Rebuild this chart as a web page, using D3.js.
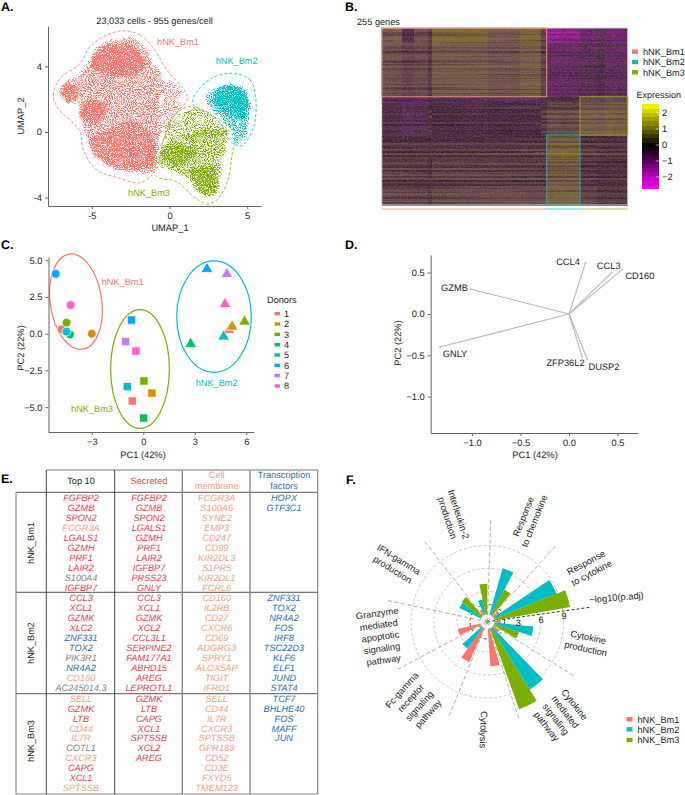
<!DOCTYPE html>
<html>
<head>
<meta charset="utf-8">
<script src="https://cdn.jsdelivr.net/npm/d3@7"></script>
<style>
  body { margin: 0; background: #fff; }
  svg { display: block; font-family: "Liberation Sans", Arial, sans-serif; text-rendering: geometricPrecision; }
  text { fill: #222; }
</style>
</head>
<body>
<div id="fig"></div>
<script>
const clusters = ["hNK_Bm1", "hNK_Bm2", "hNK_Bm3"];
const clusterColors = ["#F8766D", "#00BFC4", "#7CAE00"];

// A. UMAP clouds, outlines (UMAP units)
const bm1Outline = [[-2.96,6.17],[-1.89,5.91],[-1.03,5.10],[-0.17,3.78],[1.01,2.46],[1.12,1.95],[0.26,0.93],[-0.39,-0.49],[-0.86,-2.31],[-1.89,-3.09],[-3.18,-2.82],[-4.68,-2.31],[-5.54,-1.10],[-5.75,0.02],[-6.29,0.63],[-7.25,1.54],[-7.47,2.36],[-7.04,3.27],[-5.75,4.18],[-5.11,5.20],[-4.03,5.91]];
const bm2Outline = [[4.12,3.57],[5.19,3.17],[5.56,1.95],[5.41,0.32],[4.66,-0.83],[4.01,-0.65],[3.26,0.53],[2.40,1.24],[1.50,1.71],[1.76,2.46],[2.83,3.33]];
const bm3Outline = [[1.22,1.54],[2.62,1.04],[4.12,0.02],[4.01,-1.50],[3.69,-3.13],[3.05,-4.14],[2.40,-4.39],[1.55,-3.94],[0.47,-3.03],[-0.82,-2.72],[-1.14,-1.91],[-0.39,-0.49],[0.26,0.93]];

const bm1Body = [[-2.64,5.85],[-1.78,5.50],[-1.24,4.59],[-0.60,3.68],[-0.17,2.76],[-0.60,1.95],[-0.39,0.53],[-0.71,-1.10],[-0.92,-2.42],[-1.89,-2.52],[-3.39,-2.31],[-4.68,-1.71],[-5.28,-0.69],[-5.64,0.53],[-5.86,1.04],[-5.64,1.75],[-6.29,1.64],[-6.93,1.95],[-7.08,2.46],[-6.72,3.07],[-5.75,3.57],[-5.11,4.59],[-4.46,5.40],[-3.50,5.71]];
const bm1Top = [[-4.46,5.0],[-2.75,5.40],[-1.67,4.59],[-1.46,4.08],[-2.32,3.47],[-3.82,3.47],[-4.99,3.88],[-4.99,4.49]];
const bm1Lobe = [[-6.93,2.76],[-6.29,2.96],[-5.86,2.36],[-6.39,1.75],[-6.93,1.95]];
const bm1Mid = [[-5.54,1.75],[-4.46,1.95],[-4.03,1.14],[-4.68,0.53],[-5.75,0.83],[-5.86,1.24]];
const bm1Low = [[-2.53,0.73],[-1.46,0.22],[-0.82,-0.69],[-1.03,-2.11],[-2.96,-2.31],[-4.68,-1.50],[-5.28,-0.49],[-4.46,-0.08]];
const bm1Stray = [[-0.17,3.17],[0.90,2.36],[0.47,1.14],[-0.28,-0.08],[-0.60,0.73]];
const bm2Body = [[3.91,2.96],[4.87,2.66],[5.19,1.75],[5.09,0.53],[4.87,-0.49],[4.23,-0.79],[4.01,0.12],[3.37,0.63],[2.83,1.34],[2.19,1.95],[2.83,2.66]];
const bm2Core = [[3.91,2.86],[4.76,2.56],[5.09,1.54],[4.66,0.73],[3.69,1.04],[2.94,1.75],[3.05,2.56]];
const bm3Body = [[-0.39,-0.69],[1.12,-0.08],[2.83,0.22],[3.91,0.02],[3.69,-0.69],[3.37,-2.11],[3.26,-3.33],[2.62,-3.94],[1.97,-3.84],[0.90,-2.72],[-0.39,-2.21],[-0.92,-1.91]];
const bm3Sparse = [[-0.39,-0.49],[0.79,1.34],[1.97,1.44],[3.69,0.22],[3.91,-0.08],[1.12,-0.49]];
const bm3Core1 = [[-0.60,-1.30],[0.47,-0.69],[1.76,-1.10],[1.12,-1.91],[-0.17,-1.91]];
const bm3Core2 = [[1.33,-2.31],[2.83,-2.11],[3.26,-3.13],[2.62,-3.94],[2.08,-3.74]];

// B. heatmap: cells per column group, gene sections, level per section, stripe per 3 genes
const groupCells = [1058,870,1123,1310,374,2750,2490,2967,1965,533,1404,1713,1563,777,777,1348];
const sectionGenes = [19,80,55,36,65];
const sectionLevels = [
  [0.7,0.85,-0.4,0.55,0.3,1.1,1.05,0.75,1.05,0.35,-1.6,-1.5,-1.0,-0.6,-0.95,-1.1],
  [0.6,0.55,0.4,0.5,0.25,0.75,0.75,0.62,0.85,0.35,-0.8,-0.8,-0.55,-0.4,-0.7,-0.75],
  [-0.3,-0.35,-0.55,-0.4,0.15,-0.2,-0.25,-0.15,-0.2,0.25,0.55,0.5,0.85,0.8,0.95,0.85],
  [0.25,0.25,0.2,0.25,0.1,0.25,0.25,0.25,0.3,0.3,1.05,1.1,0.35,0.25,0.2,0.2],
  [0.5,0.48,0.48,0.42,0.25,0.5,0.5,0.5,0.48,0.45,0.95,0.95,0.35,0.2,0.2,0.2]
];
const rowStripes = [0.15,0.05,-0.15,0.05,-0.05,0.2,-0.05,0.15,0,-0.2,0.2,-0.35,0,0.15,0.05,0,-0.2,0.05,0.2,-0.15,0,0.1,-0.05,0.05,0.15,-0.05,0.05,0.1,0.05,-0.05,0.05,0.05,-0.1,
  -0.5,-0.45,-0.15,0.05,-0.15,-0.35,0.05,0.15,-0.2,0.2,-0.05,0.05,-0.3,0.15,0,-0.15,0.15,0.05,-0.05,
  -0.35,-0.05,-0.4,0.15,-0.55,-0.15,0.2,-0.2,0.35,-0.35,0.05,-0.05,
  -0.2,0,-0.35,0.05,-0.4,-0.05,0.05,-0.3,0.15,-0.5,-0.15,-0.35,0,0.05,-0.05,0.15,0.05,-0.15,0.05,0.1,0];
const exprTicks = [2, 1, 0, -1, -2];

// C. donors on PC1/PC2, one array per cluster, in donor order 1..8
const donors = ["1","2","3","4","5","6","7","8"];
const donorColors = ["#F8766D","#CD9600","#7CAE00","#00BE67","#00BFC4","#00A9FF","#C77CFF","#FF61CC"];
const bm1Pc1 = [-4.76,-3.0,-4.47,-4.27,-4.47,-5.1,-5.07,-4.23];
const bm1Pc2 = [0.29,0.0,0.75,-0.05,0.14,4.08,4.04,1.95];
const bm2Pc1 = [4.99,5.17,5.9,2.76,4.68,3.71,4.87,4.76];
const bm2Pc2 = [0.25,0.48,0.82,-0.7,-0.2,4.4,4.06,2.02];
const bm3Pc1 = [-0.64,0.5,0.04,0.02,-0.93,-0.68,-1.03,-0.43];
const bm3Pc2 = [-4.58,-4.04,-3.22,-5.74,-3.6,0.93,-0.54,-1.18];
// centre x, centre y, radius x, radius y, tilt
const ellipses = [[-3.92,2.18,1.5,3.27,-8],[4.12,1.16,2.17,3.79,0],[-0.19,-2.4,1.71,4.04,0]];

// D. loadings
const genes = ["CCL4","CCL3","CD160","GZMB","GNLY","ZFP36L2","DUSP2"];
const loadX = [0.17,0.44,0.55,-1.01,-1.33,0.134,0.19];
const loadY = [0.62,0.50,0.54,0.30,-0.40,-0.516,-0.55];

// E. marker table
const tableCols = ["Top 10","Secreted","Cell\nmembrane","Transcription\nfactors"];
const top10 = [
  ["FGFBP2","GZMB","SPON2","FCGR3A","LGALS1","GZMH","PRF1","LAIR2","S100A4","IGFBP7"],
  ["CCL3","XCL1","GZMK","XLC2","ZNF331","TOX2","PIK3R1","NR4A2","CD160","AC245014.3"],
  ["SELL","GZMK","LTB","CD44","IL7R","COTL1","CXCR3","CAPG","XCL1","SPTSSB"]];
const top10Kind = [
  ["s","s","s","m","s","s","s","s","o","s"],
  ["s","s","s","s","t","t","o","t","m","o"],
  ["m","s","s","m","m","o","m","s","s","m"]];
const secreted = [
  ["FGFBP2","GZMB","SPON2","LGALS1","GZMH","PRF1","LAIR2","IGFBP7","PRSS23","GNLY"],
  ["CCL3","XCL1","GZMK","XCL2","CCL3L1","SERPINE2","FAM177A1","ABHD15","AREG","LEPROTL1"],
  ["GZMK","LTB","CAPG","XCL1","SPTSSB","XCL2","AREG"]];
const membrane = [
  ["FCGR3A","S100A6","SYNE2","EMP3","CD247","CD99","KIR2DL3","S1PR5","KIR2DL1","FCRL6"],
  ["CD160","IL2RB","CD27","CXCR6","CD69","ADGRG3","SPRY1","ALOX5AP","TIGIT","IFRD1"],
  ["SELL","CD44","IL7R","CXCR3","SPTSSB","GPR183","CD52","CD3E","FXYD5","TMEM123"]];
const factors = [
  ["HOPX","GTF3C1"],
  ["ZNF331","TOX2","NR4A2","FOS","IRF8","TSC22D3","KLF6","ELF1","JUND","STAT4"],
  ["TCF7","BHLHE40","FOS","MAFF","JUN"]];
const kindColors = {s: "#e2444c", m: "#f0a283", t: "#2f6db3", o: "#858585"};

// F. -log10(p.adj) per pathway
const pathways = [
  ["Response","to chemokine"],["Response","to cytokine"],["Cytokine","production"],
  ["Cytokine","mediated","signaling","pathway"],["Cytolysis"],
  ["Fc-gamma","receptor","signaling","pathway"],
  ["Granzyme","mediated","apoptotic","signaling","pathway"],
  ["IFN-gamma","production"],["Interleukin-2","production"]];
const logpBm1 = [0,1.0,0.8,1.0,4.9,4.8,3.0,0,0.8];
const logpBm2 = [6.3,8.8,5.1,9.5,0,3.4,0,3.1,2.0];
const logpBm3 = [3.8,10,3.4,11.2,0,0.3,0,3.3,4.0];
const labelRadius = [111,115,102,119,108,108,108,108,111];
const ringValues = [3,6,9];

const svg = d3.select("#fig").append("svg").attr("width", 685).attr("height", 795);
const defs = svg.append("defs");

function noiseFilter(id) {
  return defs.append("filter").attr("id", id)
    .attr("filterUnits", "userSpaceOnUse").attr("x", 0).attr("y", 0).attr("width", 685).attr("height", 795)
    .attr("color-interpolation-filters", "sRGB");
}
// texture that breaks the filled shapes into specks like a dense scatter, thinning out at the edge
function speckle(id, seed, intercept) {
  const f = noiseFilter(id);
  f.append("feTurbulence").attr("type", "fractalNoise").attr("baseFrequency", 0.12).attr("numOctaves", 2).attr("seed", seed + 7).attr("result", "wob");
  f.append("feDisplacementMap").attr("in", "SourceGraphic").attr("in2", "wob").attr("scale", 5).attr("xChannelSelector", "R").attr("yChannelSelector", "G").attr("result", "shape");
  f.append("feGaussianBlur").attr("in", "shape").attr("stdDeviation", 2.5).attr("result", "soft");
  f.append("feTurbulence").attr("type", "fractalNoise").attr("baseFrequency", 0.95).attr("numOctaves", 1).attr("seed", seed).attr("result", "n");
  f.append("feColorMatrix").attr("in", "n").attr("type", "matrix").attr("values", "0 0 0 0 0  0 0 0 0 0  0 0 0 0 0  1 0 0 0 0").attr("result", "a");
  f.append("feComposite").attr("in", "soft").attr("in2", "a").attr("operator", "in").attr("result", "mix");
  f.append("feComponentTransfer").attr("in", "mix")
    .append("feFuncA").attr("type", "linear").attr("slope", 7).attr("intercept", intercept);
}
speckle("sparse", 2, -3.45);
speckle("mid", 5, -3.1);
speckle("semi", 11, -2.9);
speckle("dense", 9, -2.6);

// grain over the heatmap
function grain(id, freq, seed, intercept) {
  const f = noiseFilter(id);
  f.append("feTurbulence").attr("type", "fractalNoise").attr("baseFrequency", freq).attr("numOctaves", 1).attr("seed", seed).attr("result", "n");
  f.append("feColorMatrix").attr("in", "n").attr("type", "matrix").attr("values", "0 0 0 0 0  0 0 0 0 0  0 0 0 0 0  1 0 0 0 0").attr("result", "a");
  f.append("feComponentTransfer").attr("in", "a").attr("result", "mask")
    .append("feFuncA").attr("type", "linear").attr("slope", 6).attr("intercept", intercept);
  f.append("feComposite").attr("in", "SourceGraphic").attr("in2", "mask").attr("operator", "in");
}
grain("streaks", "0.006 0.75", 4, -3);
grain("grainA", "0.55 0.8", 8, -3);
grain("grainB", "0.55 0.8", 13, -3);

function panelLabel(t, x, y) {
  svg.append("text").attr("x", x).attr("y", y).attr("font-size", 12.5).attr("font-weight", "bold").style("fill", "#000").text(t);
}
function axisStyle(g) {
  g.selectAll("path,line").attr("stroke", "#666").attr("stroke-width", 1);
  g.selectAll("text").attr("font-size", 9.3).style("fill", "#222");
}
function axisTitle(t, x, y, rot) {
  svg.append("text").attr("transform", "translate(" + x + "," + y + ")" + (rot ? " rotate(-90)" : ""))
    .attr("text-anchor", "middle").attr("font-size", 9.3).text(t);
}
const hyphen = f => v => f(v).replace("\u2212", "-");

// ---- A
panelLabel("A.", 1, 11);
const ax = d3.scaleLinear().domain([-7.82, 5.89]).range([48, 261]);
const ay = d3.scaleLinear().domain([-4.51, 6.46]).range([206, 26]);
const blob = d3.line().x(d => ax(d[0])).y(d => ay(d[1])).curve(d3.curveCatmullRomClosed.alpha(0.5));

const clouds = [
  [0, "sparse", bm1Stray], [2, "sparse", bm3Sparse],
  [0, "mid", bm1Body], [0, "dense", bm1Top], [0, "dense", bm1Lobe], [0, "dense", bm1Mid], [0, "semi", bm1Low],
  [2, "mid", bm3Body], [2, "semi", bm3Core1], [2, "semi", bm3Core2],
  [1, "mid", bm2Body], [1, "dense", bm2Core]
];
svg.append("g").selectAll("path").data(clouds).join("path")
  .attr("d", d => blob(d[2]))
  .attr("fill", d => clusterColors[d[0]])
  .attr("stroke", d => clusterColors[d[0]]).attr("stroke-width", 4)
  .attr("filter", d => "url(#" + d[1] + ")");

const outlines = [bm1Outline, bm2Outline, bm3Outline];
svg.append("g").selectAll("path").data(outlines).join("path")
  .attr("d", blob).attr("fill", "none")
  .attr("stroke", (d, i) => clusterColors[i]).attr("stroke-width", 0.8).attr("stroke-dasharray", "3 2");

svg.append("g").attr("transform", "translate(0,206)")
  .call(d3.axisBottom(ax).tickValues([-5, 0, 5]).tickSize(3).tickSizeOuter(0).tickFormat(hyphen(d3.format("d")))).call(axisStyle);
svg.append("g").attr("transform", "translate(48,0)")
  .call(d3.axisLeft(ay).tickValues([-4, 0, 4]).tickSize(3).tickSizeOuter(0).tickFormat(hyphen(d3.format("d")))).call(axisStyle);
axisTitle("UMAP_1", 170, 231);
axisTitle("UMAP_2", 24, 116, true);
svg.append("text").attr("x", 154.5).attr("y", 23.5).attr("text-anchor", "middle").attr("font-size", 9.2).text("23,033 cells - 955 genes/cell");
[[178, 45], [236.7, 64], [149, 196]].forEach((p, i) => {
  svg.append("text").attr("x", p[0]).attr("y", p[1]).attr("text-anchor", "middle").attr("font-size", 9.2)
    .style("fill", clusterColors[i]).text(clusters[i]);
});

// ---- B
panelLabel("B.", 345, 11);
svg.append("text").attr("x", 357).attr("y", 25).attr("font-size", 9.2).text("255 genes");
const cellEdges = Array.from(d3.cumsum(groupCells)); cellEdges.unshift(0);
const hx = d3.scaleLinear().domain([0, d3.sum(groupCells)]).range([381.7, 627.7]);
const hy = d3.scaleLinear().domain([0, 255]).range([28, 205]);
// cells are far narrower than a pixel, so what shows is the yellow/magenta mix
const heatColor = d3.scaleLinear()
  .domain([-2.2,-1.2,-0.5,0,0.45,0.85,1.3,2.2])
  .range(["#c81cc8","#781e78","#57305a","#3b2433","#66464f","#76604a","#7a7420","#b8b810"]);
const sectionStart = Array.from(d3.cumsum(sectionGenes)); sectionStart.unshift(0);
function sectionOf(gene) { return d3.bisectRight(sectionStart, gene) - 1; }

const heat = svg.append("g").attr("shape-rendering", "crispEdges");
rowStripes.forEach((shift, r) => {
  const gene = r * 3;
  const levels = sectionLevels[Math.min(sectionOf(gene), 4)];
  heat.selectAll(null).data(groupCells).join("rect")
    .attr("x", (d, c) => hx(cellEdges[c]))
    .attr("width", (d, c) => hx(cellEdges[c + 1]) - hx(cellEdges[c]))
    .attr("y", hy(gene))
    .attr("height", hy(Math.min(gene + 3, 255)) - hy(gene) + 0.5)
    .attr("fill", (d, c) => heatColor(levels[c] + shift));
});
[["streaks", "#1a0a18", 0.28], ["grainA", "#a04aa0", 0.22], ["grainB", "#9a9a20", 0.22]].forEach(o => {
  svg.append("rect").attr("x", 381.7).attr("y", 28).attr("width", 246).attr("height", 177)
    .attr("fill", o[1]).attr("opacity", o[2]).attr("filter", "url(#" + o[0] + ")");
});
// annotation boxes: [first group, last group + 1, first section, last section + 1]
const boxes = [[0, 10, 0, 2, "#e98a80"], [10, 12, 3, 5, "#2aa9ad"], [12, 16, 2, 3, "#8fa626"]];
const bBox = svg.append("g").attr("fill", "none").attr("stroke-width", 1);
bBox.append("rect").attr("x", hx.range()[0]).attr("y", hy(0)).attr("width", 246).attr("height", 177).attr("stroke", "#d8d0d8");
bBox.selectAll(null).data(boxes).join("rect")
  .attr("x", d => hx(cellEdges[d[0]])).attr("width", d => hx(cellEdges[d[1]]) - hx(cellEdges[d[0]]))
  .attr("y", d => hy(sectionStart[d[2]])).attr("height", d => hy(sectionStart[d[3]]) - hy(sectionStart[d[2]]))
  .attr("stroke", d => d[4]);
// strip under the heatmap
[[0, 10], [10, 12], [12, 16]].forEach((s, i) => {
  svg.append("rect").attr("x", hx(cellEdges[s[0]])).attr("y", 208)
    .attr("width", hx(cellEdges[s[1]]) - hx(cellEdges[s[0]])).attr("height", 2)
    .attr("fill", clusterColors[i]).attr("opacity", 0.35);
});
function clusterKeys(keyX, ys, labelGap) {
  clusters.forEach((c, i) => {
    svg.append("rect").attr("x", keyX).attr("y", ys[i] - 2.2).attr("width", 6).attr("height", 4.4).attr("fill", clusterColors[i]);
    svg.append("text").attr("x", keyX + labelGap).attr("y", ys[i] + 3.3).attr("font-size", 9.2).text(c);
  });
}
clusterKeys(632, [51.7, 62, 72.3], 11);
svg.append("text").attr("x", 636.5).attr("y", 98).attr("font-size", 9).text("Expression");
const exprY = d3.scaleLinear().domain([-2.73, 2.56]).range([188.7, 104]);
const exprColor = d3.scaleLinear().domain([-2.73, 0, 2.56]).range(["#ff00ff", "#000000", "#ffff00"]);
const exprBins = d3.range(20).map(i => -2.73 + i * 5.29 / 20);
svg.append("g").attr("shape-rendering", "crispEdges").selectAll("rect").data(exprBins).join("rect")
  .attr("x", 642.3).attr("width", 16.7)
  .attr("y", d => exprY(d + 5.29 / 20)).attr("height", d => exprY(d) - exprY(d + 5.29 / 20) + 0.5)
  .attr("fill", d => exprColor(d + 5.29 / 40));
svg.append("g").selectAll("line").data(exprTicks).join("line")
  .attr("x1", 655.7).attr("x2", 659).attr("y1", d => exprY(d)).attr("y2", d => exprY(d)).attr("stroke", "#fff").attr("stroke-width", 0.6);
svg.append("g").attr("transform", "translate(659,0)")
  .call(d3.axisRight(exprY).tickValues(exprTicks).tickSize(0).tickPadding(3).tickFormat(d3.format("d")))
  .call(g => g.select("path").remove())
  .call(g => g.selectAll("text").attr("font-size", 9.3).style("fill", "#222"));

// ---- C
panelLabel("C.", 1, 249);
const cx = d3.scaleLinear().domain([-5.52, 6.43]).range([48.5, 253.7]);
const cy = d3.scaleLinear().domain([-6.69, 5.22]).range([432, 257]);
svg.append("g").selectAll("ellipse").data(ellipses).join("ellipse")
  .attr("cx", 0).attr("cy", 0)
  .attr("rx", d => cx(d[2]) - cx(0)).attr("ry", d => cy(0) - cy(d[3]))
  .attr("transform", d => "translate(" + cx(d[0]) + "," + cy(d[1]) + ") rotate(" + d[4] + ")")
  .attr("fill", "none").attr("stroke", (d, i) => clusterColors[i]).attr("stroke-width", 1.2);
const donorMarks = [[d3.symbolCircle, bm1Pc1, bm1Pc2, 62], [d3.symbolTriangle, bm2Pc1, bm2Pc2, 62], [d3.symbolSquare, bm3Pc1, bm3Pc2, 70]];
// drawn so that the blue marker sits over the purple one, as in the picture
const donorOrder = [0, 1, 2, 3, 4, 6, 5, 7];
donorMarks.forEach(m => {
  svg.append("g").selectAll("path").data(donorOrder).join("path")
    .attr("d", d3.symbol().type(m[0]).size(m[3]))
    .attr("transform", d => "translate(" + cx(m[1][d]) + "," + cy(m[2][d]) + ")")
    .attr("fill", d => donorColors[d]).attr("stroke", "#fff").attr("stroke-width", 0.8);
});
svg.append("g").attr("transform", "translate(0,432)")
  .call(d3.axisBottom(cx).tickValues([-3, 0, 3, 6]).tickSize(3).tickSizeOuter(0)).call(axisStyle);
svg.append("g").attr("transform", "translate(48.5,0)")
  .call(d3.axisLeft(cy).tickValues([-5, -2.5, 0, 2.5, 5]).tickSize(3).tickSizeOuter(0).tickFormat(d3.format(".1f"))).call(axisStyle);
axisTitle("PC1 (42%)", 143, 458);
axisTitle("PC2 (22%)", 24, 348, true);
[[122.7, 284.8], [216.7, 386], [92, 411.8]].forEach((p, i) => {
  svg.append("text").attr("x", p[0]).attr("y", p[1]).attr("text-anchor", "middle").attr("font-size", 9.2)
    .style("fill", clusterColors[i]).text(clusters[i]);
});
svg.append("text").attr("x", 267).attr("y", 303).attr("font-size", 9.2).text("Donors");
const donorY = d3.scalePoint().domain(donors).range([313.7, 386]);
donors.forEach((d, i) => {
  svg.append("rect").attr("x", 274.5).attr("y", donorY(d) - 1.7).attr("width", 5.5).attr("height", 3.4).attr("fill", donorColors[i]);
  svg.append("text").attr("x", 284).attr("y", donorY(d) + 3.3).attr("font-size", 9.2).text(d);
});

// ---- D
panelLabel("D.", 345, 249);
const dx = d3.scaleLinear().domain([-1.426, 0.711]).range([430.7, 638]);
const dy = d3.scaleLinear().domain([-1.439, 0.713]).range([433, 255]);
// label centre, pixels relative to the arrow tip
const geneLabelShift = [[-17.5, -1], [-3, -7], [17.5, 6], [-16.5, -1], [15, 7], [-16.5, 6.5], [16.5, 7.5]];
svg.append("g").selectAll("line").data(genes).join("line")
  .attr("x1", dx(0)).attr("y1", dy(0))
  .attr("x2", (d, i) => dx(loadX[i])).attr("y2", (d, i) => dy(loadY[i]))
  .attr("stroke", "#b9b9b9").attr("stroke-width", 1.1);
svg.append("g").selectAll("circle").data(genes).join("circle")
  .attr("cx", (d, i) => dx(loadX[i])).attr("cy", (d, i) => dy(loadY[i])).attr("r", 0.9).attr("fill", "#b9b9b9");
svg.append("g").selectAll("text").data(genes).join("text")
  .attr("x", (d, i) => dx(loadX[i]) + geneLabelShift[i][0])
  .attr("y", (d, i) => dy(loadY[i]) + geneLabelShift[i][1] + 3.2)
  .attr("text-anchor", "middle").attr("font-size", 9.3).text(d => d);
svg.append("g").attr("transform", "translate(0,433)")
  .call(d3.axisBottom(dx).tickValues([-1, -0.5, 0, 0.5]).tickSize(3).tickSizeOuter(0).tickFormat(d3.format(".1f"))).call(axisStyle);
svg.append("g").attr("transform", "translate(430.7,0)")
  .call(d3.axisLeft(dy).tickValues([-1, -0.5, 0, 0.5]).tickSize(3).tickSizeOuter(0).tickFormat(d3.format(".1f"))).call(axisStyle);
axisTitle("PC1 (42%)", 535, 458);
axisTitle("PC2 (22%)", 401, 343, true);

// ---- E
panelLabel("E.", 1, 483);
const colMid = [81, 149, 216.7, 284];
const rowFirstY = [497.7, 597.7, 698.3];
const headColors = ["#222", kindColors.s, kindColors.m, kindColors.t];
const tableLines = svg.append("g").attr("fill", "none");
function tLine(x1, y1, x2, y2, c, w) {
  tableLines.append("line").attr("x1", x1).attr("y1", y1).attr("x2", x2).attr("y2", y2).attr("stroke", c).attr("stroke-width", w);
}
tLine(46.3, 470, 317.7, 470, "#777", 1.2);
tLine(16, 492.3, 317.7, 492.3, "#555", 1);
tLine(16, 592.3, 317.7, 592.3, "#555", 1);
tLine(16, 693.7, 317.7, 693.7, "#555", 1);
tLine(16, 794, 317.7, 794, "#888", 1.2);
tLine(16, 492.3, 16, 794, "#777", 1);
tLine(46.3, 470, 46.3, 794, "#444", 1);
tLine(114.7, 470, 114.7, 794, "#444", 1);
tLine(182.3, 470, 182.3, 794, "#888", 1.4);
tLine(250, 470, 250, 794, "#888", 1.4);
tLine(317.7, 470, 317.7, 794, "#888", 1.2);
tableCols.forEach((c, i) => {
  const parts = c.split("\n");
  parts.forEach((p, j) => {
    svg.append("text").attr("x", colMid[i]).attr("y", (parts.length > 1 ? 478 + j * 11 : 483.5))
      .attr("text-anchor", "middle").attr("font-size", 9.2).style("fill", headColors[i]).text(p);
  });
});
const geneCols = [top10, secreted, membrane, factors];
geneCols.forEach((col, ci) => {
  col.forEach((names, ri) => {
    svg.append("g").selectAll("text").data(names).join("text")
      .attr("x", colMid[ci])
      .attr("y", (d, k) => rowFirstY[ri] + k * 9.97 + 3.3)
      .attr("text-anchor", "middle").attr("font-size", 9.2).attr("font-style", "italic")
      .style("fill", (d, k) => {
        if (ci === 0) return kindColors[top10Kind[ri][k]];
        return kindColors[["", "s", "m", "t"][ci]];
      })
      .text(d => d);
  });
});
[543, 643, 741].forEach((y, i) => {
  svg.append("text").attr("transform", "translate(34," + y + ") rotate(-90)")
    .attr("text-anchor", "middle").attr("font-size", 9.2).text(clusters[i]);
});

// ---- F
panelLabel("F.", 346, 484);
const polar = svg.append("g").attr("transform", "translate(487.3,621.7)");
const rad = d3.scaleLinear().domain([0, 9]).range([7.3, 76.3]);
const sectorStart = d3.scaleLinear().domain([0, 9]).range([2, 362]);
const deg = Math.PI / 180;
const tip = (a, r) => [r * Math.sin(a * deg), -r * Math.cos(a * deg)];

polar.selectAll(".ring").data(ringValues).join("circle").attr("class", "ring")
  .attr("r", d => rad(d)).attr("fill", "none").attr("stroke", "#bdbdbd").attr("stroke-width", 0.8).attr("stroke-dasharray", "3 2");
polar.append("circle").attr("r", rad(1.3)).attr("fill", "none").attr("stroke", "#222").attr("stroke-width", 0.8).attr("stroke-dasharray", "3 2.5");
polar.selectAll(".ray").data(pathways).join("line").attr("class", "ray")
  .attr("x1", 0).attr("y1", 0)
  .attr("x2", (d, i) => tip(sectorStart(i), 103)[0]).attr("y2", (d, i) => tip(sectorStart(i), 103)[1])
  .attr("stroke", (d, i) => i === 2 ? "none" : "#9a9a9a").attr("stroke-width", 0.8).attr("stroke-dasharray", "4 2.5");
polar.append("line").attr("x1", 0).attr("y1", 0)
  .attr("x2", tip(82, 104)[0]).attr("y2", tip(82, 104)[1])
  .attr("stroke", "#222").attr("stroke-width", 0.9).attr("stroke-dasharray", "3 2");

const wedge = d3.arc();
[logpBm1, logpBm2, logpBm3].forEach((vals, s) => {
  polar.append("g").selectAll("path").data(vals).join("path")
    .attr("d", (v, i) => {
      const a0 = sectorStart(i) + 2 + s * 12;
      return v > 0 ? wedge({innerRadius: rad(0), outerRadius: rad(v), startAngle: a0 * deg, endAngle: (a0 + 12) * deg}) : null;
    })
    .attr("fill", clusterColors[s]);
});
polar.append("circle").attr("r", 2).attr("fill", "#999");
polar.append("circle").attr("r", rad(0)).attr("fill", "none").attr("stroke", "#aaa").attr("stroke-width", 0.5).attr("stroke-dasharray", "1.5 1.5");

ringValues.forEach(v => {
  const p = tip(82, rad(v));
  polar.append("text").attr("x", p[0] + 1).attr("y", p[1] + 5 + 3.3).attr("text-anchor", "middle").attr("font-size", 9.3).text(v);
});
polar.append("text").attr("transform", "translate(129.5,-21) rotate(-5)")
  .attr("text-anchor", "middle").attr("font-size", 9.3).text("\u2212log10(p.adj)");

pathways.forEach((lines, i) => {
  const a = sectorStart(i) + 20;
  const p = tip(a, labelRadius[i]);
  const rot = a <= 182 ? a - 90 : a - 270;
  const t = polar.append("text").attr("transform", "translate(" + p[0] + "," + p[1] + ") rotate(" + rot + ")")
    .attr("text-anchor", "middle").attr("font-size", 9.3);
  lines.forEach((l, j) => {
    t.append("tspan").attr("x", 0).attr("y", (j - (lines.length - 1) / 2) * 11.8 + 3.2).text(l);
  });
});
clusterKeys(626.5, [719.3, 729.3, 740], 11);
</script>
</body>
</html>
